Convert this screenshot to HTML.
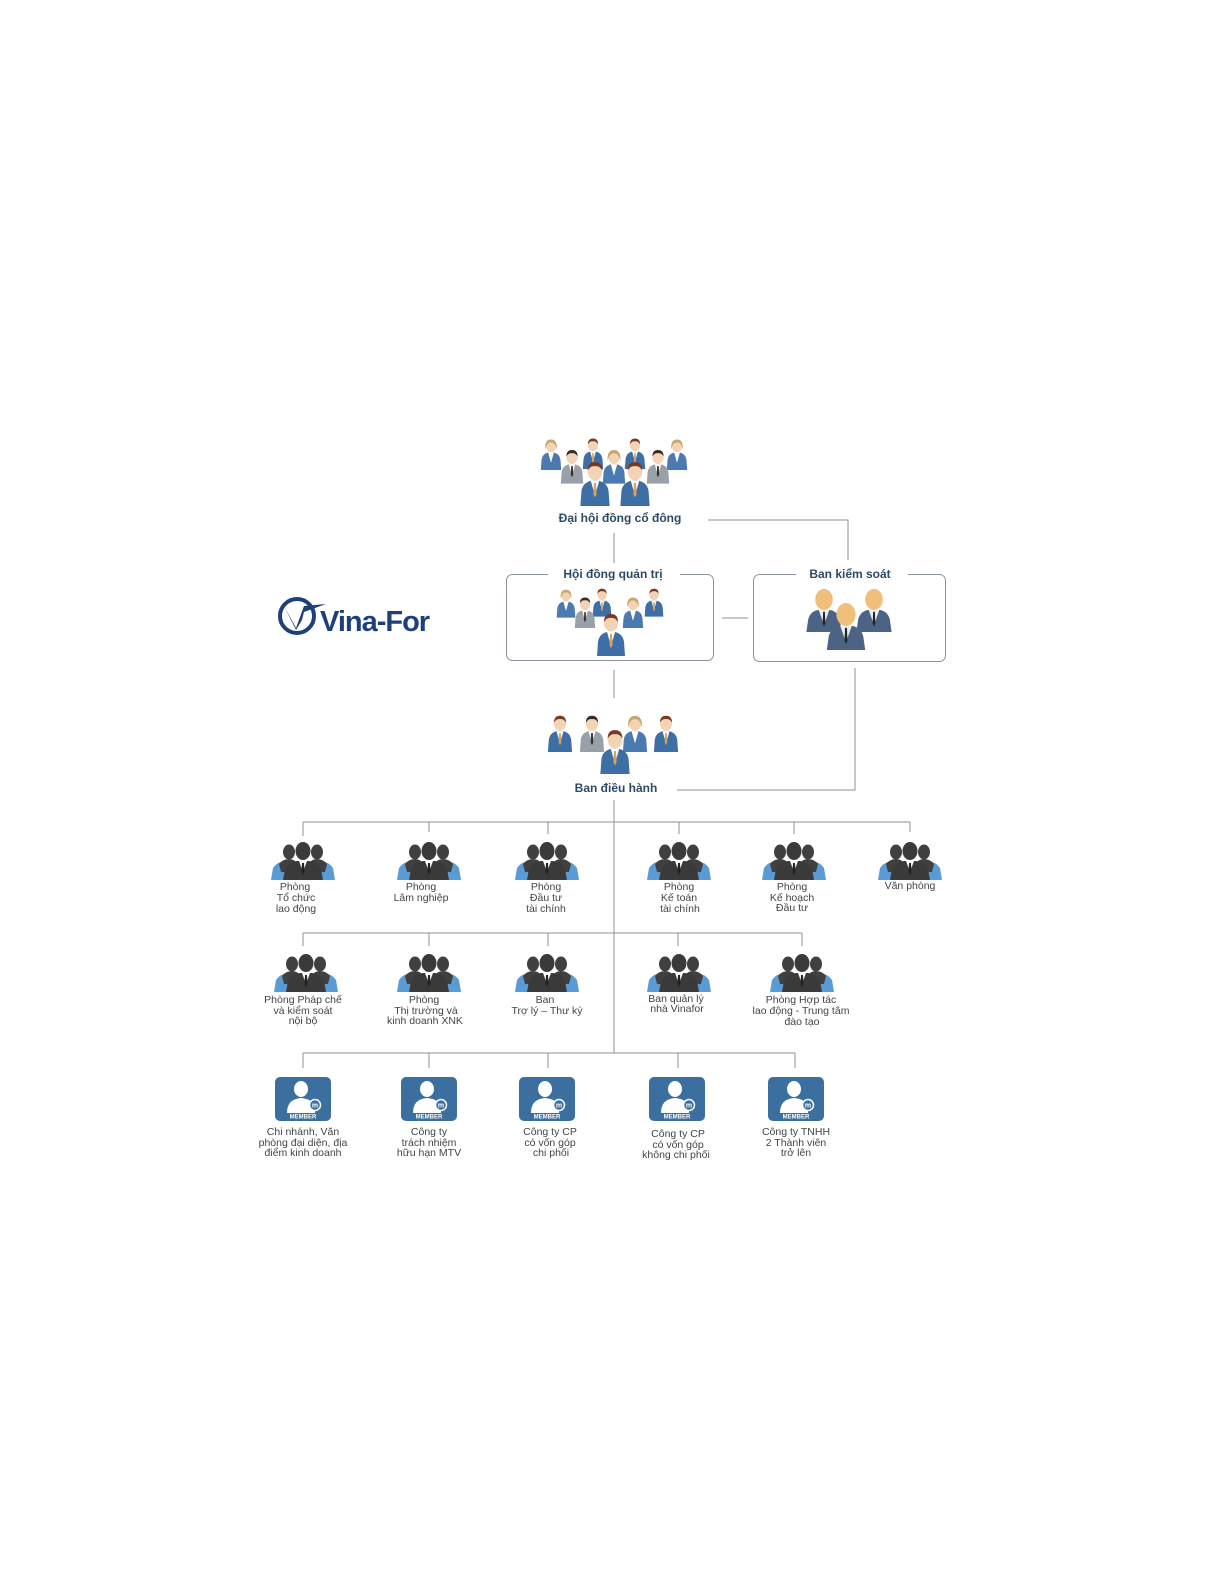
<!DOCTYPE html>
<html><head><meta charset="utf-8"><style>
html,body{margin:0;padding:0;background:#fff;overflow:hidden;width:1225px;height:1585px;}
svg{display:block;}
text{font-family:"Liberation Sans",sans-serif;}
.t{font-size:10.5px;fill:#444;text-anchor:middle;}
.h{font-size:12px;font-weight:bold;fill:#2c4a66;text-anchor:middle;}
</style></head><body>
<svg width="1225" height="1585" viewBox="0 0 1225 1585" xmlns="http://www.w3.org/2000/svg">
<defs>
<symbol id="pb" viewBox="0 0 30 44">
<path d="M1 44 L2 30 Q3 22 11 20 L19 20 Q27 22 28 30 L29 44 Z" fill="#3d6fa6"/>
<path d="M11 20 L15 34 L19 20 Z" fill="#fff"/>
<path d="M14 22 L16 22 L16.5 33 L15 36 L13.5 33 Z" fill="#d9a25a"/>
<ellipse cx="15" cy="11" rx="7" ry="8.5" fill="#f3d3b5"/>
<path d="M8 10 Q8 2 15 2 Q22 2 22 10 Q19 5 15 6 Q11 5 8 10Z" fill="#7a3a22"/>
</symbol>
<symbol id="pg" viewBox="0 0 30 44">
<path d="M1 44 L2 30 Q3 22 11 20 L19 20 Q27 22 28 30 L29 44 Z" fill="#9aa0a8"/>
<path d="M11 20 L15 34 L19 20 Z" fill="#fff"/>
<path d="M14 22 L16 22 L16.5 33 L15 36 L13.5 33 Z" fill="#333"/>
<ellipse cx="15" cy="11" rx="7" ry="8.5" fill="#f3d3b5"/>
<path d="M8 10 Q8 2 15 2 Q22 2 22 10 Q19 5 15 6 Q11 5 8 10Z" fill="#3a2a20"/>
</symbol>
<symbol id="pw" viewBox="0 0 30 44">
<path d="M1 44 L2 30 Q3 22 11 20 L19 20 Q27 22 28 30 L29 44 Z" fill="#4a7ab0"/>
<path d="M11 20 L15 34 L19 20 Z" fill="#fff"/>
<ellipse cx="15" cy="11" rx="7" ry="8.5" fill="#f3d3b5"/>
<path d="M7 16 Q6 2 15 2 Q24 2 23 16 Q21 6 15 6 Q9 6 7 16Z" fill="#c9a76a"/>
</symbol>
<symbol id="pk" viewBox="0 0 40 50">
<path d="M0 50 L2 36 Q4 27 13 25 L27 25 Q36 27 38 36 L40 50 Z" fill="#4b6385"/>
<path d="M14 25 L20 42 L26 25 Z" fill="#e8eef4"/>
<path d="M19 27 L21 27 L21.5 40 L20 44 L18.5 40 Z" fill="#222"/>
<ellipse cx="20" cy="13" rx="10" ry="12" fill="#f0c07a"/>
</symbol>
<symbol id="dg" viewBox="0 0 68 38">
<path d="M2 38 L4 26 Q8 20 16 19 L22 21 L22 38Z" fill="#5b9bd5"/>
<path d="M66 38 L64 26 Q60 20 52 19 L46 21 L46 38Z" fill="#5b9bd5"/>
<ellipse cx="20" cy="10" rx="6" ry="7.5" fill="#404040"/>
<ellipse cx="48" cy="10" rx="6" ry="7.5" fill="#404040"/>
<path d="M10 22 Q14 17 20 17 Q26 17 28 22 L26 30 L12 30Z" fill="#404040"/>
<path d="M58 22 Q54 17 48 17 Q42 17 40 22 L42 30 L56 30Z" fill="#404040"/>
<path d="M14 38 L16 27 Q20 20 28 19 L40 19 Q48 20 52 27 L54 38Z" fill="#3a3a3a"/>
<ellipse cx="34" cy="9" rx="7.5" ry="9" fill="#3a3a3a"/>
<path d="M30 19 L34 30 L38 19Z" fill="#fff"/>
<path d="M33 21 L35 21 L35.5 30 L34 33 L32.5 30Z" fill="#222"/>
</symbol>
<symbol id="mb" viewBox="0 0 56 44">
<rect x="0" y="0" width="56" height="44" rx="5" fill="#3a6fa0"/>
<ellipse cx="26" cy="12" rx="7" ry="8" fill="#fff"/>
<path d="M12 36 Q12 22 26 21 Q38 22 40 30 L40 36Z" fill="#fff"/>
<circle cx="40" cy="28" r="5.5" fill="#3a6fa0" stroke="#fff" stroke-width="1.5"/>
<text x="40" y="30.5" font-size="7" fill="#fff" text-anchor="middle" font-weight="bold">m</text>
<text x="28" y="41.5" font-size="6" fill="#fff" text-anchor="middle" font-weight="bold">MEMBER</text>
</symbol>
</defs>

<g stroke="#8a939b" stroke-width="1" fill="none">
<line x1="614" y1="533" x2="614" y2="563"/>
<polyline points="708,520 848,520 848,560"/>
<rect x="506.5" y="574.5" width="207" height="86" rx="6"/>
<rect x="753.5" y="574.5" width="192" height="87" rx="6"/>
<line x1="722" y1="618" x2="748" y2="618"/>
<line x1="614" y1="670" x2="614" y2="698"/>
<polyline points="677,790 855,790 855,668"/>
<line x1="614" y1="800" x2="614" y2="1053"/>
<line x1="303" y1="822" x2="910" y2="822"/>
<line x1="303" y1="822" x2="303" y2="836"/><line x1="429" y1="822" x2="429" y2="832"/><line x1="548" y1="822" x2="548" y2="834"/><line x1="679" y1="822" x2="679" y2="834"/><line x1="794" y1="822" x2="794" y2="834"/><line x1="910" y1="822" x2="910" y2="832"/>
<line x1="303" y1="933" x2="802" y2="933"/>
<line x1="303" y1="933" x2="303" y2="946"/><line x1="429" y1="933" x2="429" y2="946"/><line x1="548" y1="933" x2="548" y2="946"/><line x1="678" y1="933" x2="678" y2="946"/><line x1="802" y1="933" x2="802" y2="946"/>
<line x1="303" y1="1053" x2="795" y2="1053"/>
<line x1="303" y1="1053" x2="303" y2="1068"/><line x1="429" y1="1053" x2="429" y2="1068"/><line x1="548" y1="1053" x2="548" y2="1068"/><line x1="678" y1="1053" x2="678" y2="1068"/><line x1="795" y1="1053" x2="795" y2="1068"/>
</g>
<rect x="548" y="566" width="132" height="16" fill="#fff"/>
<rect x="796" y="566" width="112" height="16" fill="#fff"/>

<use href="#pw" x="540" y="438" width="22" height="32"/>
<use href="#pb" x="582" y="437" width="22" height="32"/>
<use href="#pb" x="624" y="437" width="22" height="32"/>
<use href="#pw" x="666" y="438" width="22" height="32"/>
<use href="#pg" x="560" y="448" width="24" height="36"/>
<use href="#pw" x="602" y="448" width="24" height="36"/>
<use href="#pg" x="646" y="448" width="24" height="36"/>
<use href="#pb" x="578" y="460" width="34" height="46"/>
<use href="#pb" x="618" y="460" width="34" height="46"/>
<text class="h" x="620" y="522">Đại hội đồng cổ đông</text>

<text class="h" x="613" y="578">Hội đồng quản trị</text>
<use href="#pw" x="556" y="588" width="20" height="30"/>
<use href="#pb" x="592" y="587" width="20" height="30"/>
<use href="#pb" x="644" y="587" width="20" height="30"/>
<use href="#pg" x="574" y="596" width="22" height="32"/>
<use href="#pw" x="622" y="596" width="22" height="32"/>
<use href="#pb" x="592" y="612" width="38" height="44"/>

<text class="h" x="850" y="578">Ban kiểm soát</text>
<use href="#pk" x="806" y="588" width="36" height="44"/>
<use href="#pk" x="856" y="588" width="36" height="44"/>
<use href="#pk" x="826" y="602" width="40" height="48"/>

<use href="#pb" x="547" y="714" width="26" height="38"/>
<use href="#pg" x="579" y="714" width="26" height="38"/>
<use href="#pw" x="622" y="714" width="26" height="38"/>
<use href="#pb" x="652" y="714" width="28" height="38"/>
<use href="#pb" x="596" y="728" width="38" height="46"/>
<text class="h" x="616" y="792">Ban điều hành</text>

<circle cx="297" cy="616" r="17" fill="none" stroke="#1d3f7c" stroke-width="4"/>
<path d="M284 606 L296 628 L304 606 L326 604 L304 612 L302 620 L296 630Z" fill="#1d3f7c"/>
<text x="320" y="631" font-size="29" font-weight="bold" fill="#1d3f7c" letter-spacing="-1">Vina-For</text>

<use href="#dg" x="269" y="842" width="68" height="38"/>
<use href="#dg" x="395" y="842" width="68" height="38"/>
<use href="#dg" x="513" y="842" width="68" height="38"/>
<use href="#dg" x="645" y="842" width="68" height="38"/>
<use href="#dg" x="760" y="842" width="68" height="38"/>
<use href="#dg" x="876" y="842" width="68" height="38"/>
<text class="t" x="295" y="890">Phòng</text><text class="t" x="296" y="901">Tổ chức</text><text class="t" x="296" y="912">lao động</text>
<text class="t" x="421" y="890">Phòng</text><text class="t" x="421" y="901">Lâm nghiệp</text>
<text class="t" x="546" y="890">Phòng</text><text class="t" x="546" y="901">Đầu tư</text><text class="t" x="546" y="912">tài chính</text>
<text class="t" x="679" y="890">Phòng</text><text class="t" x="679" y="901">Kế toán</text><text class="t" x="680" y="912">tài chính</text>
<text class="t" x="792" y="890">Phòng</text><text class="t" x="792" y="901">Kế hoạch</text><text class="t" x="792" y="911">Đầu tư</text>
<text class="t" x="910" y="889">Văn phòng</text>

<use href="#dg" x="272" y="954" width="68" height="38"/>
<use href="#dg" x="395" y="954" width="68" height="38"/>
<use href="#dg" x="513" y="954" width="68" height="38"/>
<use href="#dg" x="645" y="954" width="68" height="38"/>
<use href="#dg" x="768" y="954" width="68" height="38"/>
<text class="t" x="303" y="1003">Phòng Pháp chế</text><text class="t" x="303" y="1014">và kiểm soát</text><text class="t" x="303" y="1024">nội bộ</text>
<text class="t" x="424" y="1003">Phòng</text><text class="t" x="426" y="1014">Thị trường và</text><text class="t" x="425" y="1024">kinh doanh XNK</text>
<text class="t" x="545" y="1003">Ban</text><text class="t" x="547" y="1014">Trợ lý – Thư ký</text>
<text class="t" x="676" y="1002">Ban quản lý</text><text class="t" x="677" y="1012">nhà Vinafor</text>
<text class="t" x="801" y="1003">Phòng Hợp tác</text><text class="t" x="801" y="1014">lao động - Trung tâm</text><text class="t" x="802" y="1025">đào tạo</text>

<use href="#mb" x="275" y="1077" width="56" height="44"/>
<use href="#mb" x="401" y="1077" width="56" height="44"/>
<use href="#mb" x="519" y="1077" width="56" height="44"/>
<use href="#mb" x="649" y="1077" width="56" height="44"/>
<use href="#mb" x="768" y="1077" width="56" height="44"/>
<text class="t" x="303" y="1135">Chi nhánh, Văn</text><text class="t" x="303" y="1146">phòng đại diện, địa</text><text class="t" x="303" y="1156">điểm kinh doanh</text>
<text class="t" x="429" y="1135">Công ty</text><text class="t" x="429" y="1146">trách nhiệm</text><text class="t" x="429" y="1156">hữu hạn MTV</text>
<text class="t" x="550" y="1135">Công ty CP</text><text class="t" x="550" y="1146">có  vốn góp</text><text class="t" x="551" y="1156">chi phối</text>
<text class="t" x="678" y="1137">Công ty CP</text><text class="t" x="678" y="1148">có vốn góp</text><text class="t" x="676" y="1158">không chi phối</text>
<text class="t" x="796" y="1135">Công ty TNHH</text><text class="t" x="796" y="1146">2 Thành viên</text><text class="t" x="796" y="1156">trở lên</text>
</svg>
</body></html>
